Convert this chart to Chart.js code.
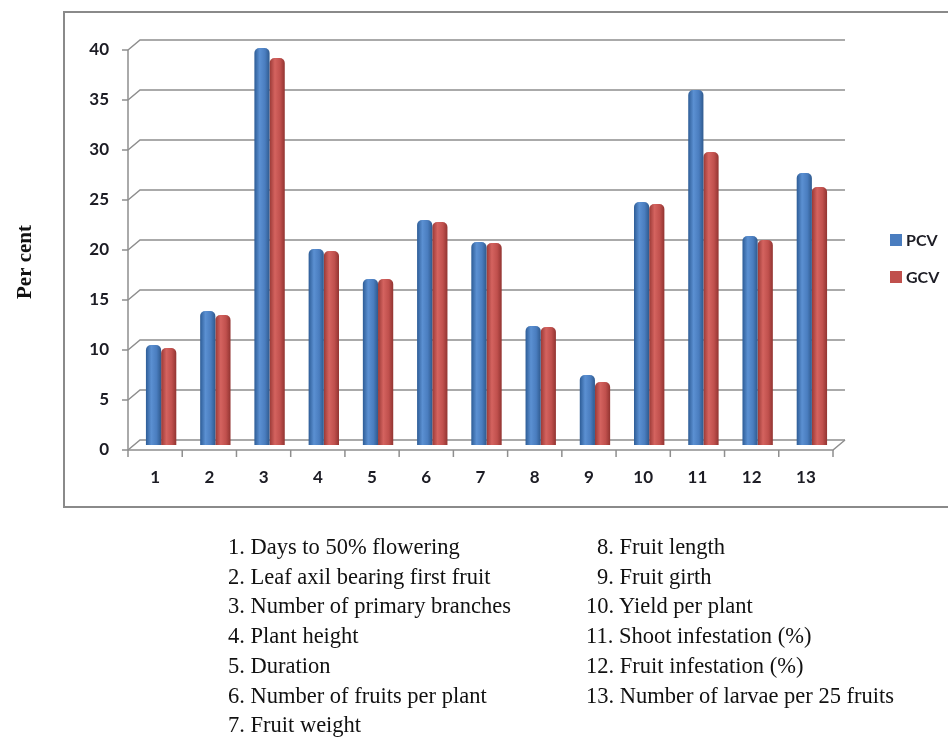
<!DOCTYPE html>
<html>
<head>
<meta charset="utf-8">
<script src="https://cdn.jsdelivr.net/npm/chart.js@4.4.1/dist/chart.umd.min.js"></script>
<style>
  html, body { margin: 0; padding: 0; background: #fff; }
  #wrap { position: relative; width: 948px; height: 739px; overflow: hidden; }
  #chart { position: absolute; left: 0; top: 0; }
  .key { position: absolute; font-family: "Liberation Serif", "Times New Roman", serif;
         font-size: 22.5px; line-height: 29.7px; color: #111; white-space: nowrap; }
  #keyLeft { left: 228px; top: 532px; }
  #keyRight { left: 586px; top: 532px; }
  #keyRight div.ind { padding-left: 11px; }
</style>
</head>
<body>
<div id="wrap">
  <canvas id="chart" width="948" height="739"></canvas>
  <div class="key" id="keyLeft"></div>
  <div class="key" id="keyRight"></div>
</div>
<script>
var categories = ["1", "2", "3", "4", "5", "6", "7", "8", "9", "10", "11", "12", "13"];
var pcv = [10.0, 13.4, 39.7, 19.6, 16.6, 22.5, 20.3, 11.9, 7.0, 24.3, 35.5, 20.9, 27.2];
var gcv = [9.7, 13.0, 38.7, 19.4, 16.6, 22.3, 20.2, 11.8, 6.3, 24.1, 29.3, 20.5, 25.8];
var yTicks = [0, 5, 10, 15, 20, 25, 30, 35, 40];
var traitNames = [
  "Days to 50% flowering",
  "Leaf axil bearing first fruit",
  "Number of primary branches",
  "Plant height",
  "Duration",
  "Number of fruits per plant",
  "Fruit weight",
  "Fruit length",
  "Fruit girth",
  "Yield per plant",
  "Shoot infestation (%)",
  "Fruit infestation (%)",
  "Number of larvae per 25 fruits"
];

// key below the chart
var leftHtml = "", rightHtml = "";
traitNames.forEach(function(name, i) {
  var line = (i + 1) + ". " + name;
  if (i < 7) leftHtml += "<div>" + line + "</div>";
  else rightHtml += "<div" + (i < 9 ? " class='ind'" : "") + ">" + line + "</div>";
});
document.getElementById("keyLeft").innerHTML = leftHtml;
document.getElementById("keyRight").innerHTML = rightHtml;

var CAT_PCT = 0.56;
var DEPTH = {x: 6, y: 5};   // half of the fake 3d offset
var axisFont = 'bold 17px Lato, "Open Sans", sans-serif';
var textColor = "#1c1c24";
var gridColor = "#8e8e8e";

var shades = [
  ["#2d5c96", "#5b90d2", "#4a7dbf", "#2f5a8e"],
  ["#9a3936", "#d4635f", "#c0504d", "#923431"]
];

function barFill(ctx) {
  var chart = ctx.chart;
  if (!chart.chartArea) return shades[ctx.datasetIndex][2];
  var x = chart.scales.x;
  var catW = x.width / categories.length;
  var barW = catW * CAT_PCT / 2;
  var left = x.getPixelForValue(ctx.dataIndex) - catW * CAT_PCT / 2 + ctx.datasetIndex * barW;
  var g = chart.ctx.createLinearGradient(left, 0, left + barW, 0);
  var s = shades[ctx.datasetIndex];
  g.addColorStop(0, s[0]);
  g.addColorStop(0.35, s[1]);
  g.addColorStop(0.7, s[2]);
  g.addColorStop(1, s[3]);
  return g;
}

var frame = {
  id: "frame",
  beforeDatasetsDraw: function(chart) {
    var c = chart.ctx, a = chart.chartArea, y = chart.scales.y;
    c.save();
    // outer box
    c.strokeStyle = "#8a8a8a";
    c.lineWidth = 2;
    c.strokeRect(64, 12, 900, 495);
    // back wall gridlines + side diagonals
    c.strokeStyle = gridColor;
    c.lineWidth = 1.5;
    yTicks.forEach(function(v) {
      var py = y.getPixelForValue(v);
      c.beginPath();
      c.moveTo(a.left - DEPTH.x, py + DEPTH.y);
      c.lineTo(a.left + DEPTH.x, py - DEPTH.y);
      c.lineTo(a.right + DEPTH.x, py - DEPTH.y);
      c.stroke();
    });
    // floor
    var p0 = y.getPixelForValue(0);
    c.beginPath();
    c.moveTo(a.left - DEPTH.x, p0 + DEPTH.y);
    c.lineTo(a.right - DEPTH.x, p0 + DEPTH.y);
    c.lineTo(a.right + DEPTH.x, p0 - DEPTH.y);
    c.stroke();
    c.restore();
  },
  afterDraw: function(chart) {
    var c = chart.ctx, a = chart.chartArea, x = chart.scales.x, y = chart.scales.y;
    var fx = a.left - DEPTH.x;
    var p0 = y.getPixelForValue(0) + DEPTH.y;
    c.save();
    c.strokeStyle = gridColor;
    c.lineWidth = 1.5;
    // front value axis
    c.beginPath();
    c.moveTo(fx, y.getPixelForValue(40) + DEPTH.y);
    c.lineTo(fx, p0);
    c.stroke();
    c.fillStyle = textColor;
    c.font = axisFont;
    c.textAlign = "right";
    c.textBaseline = "middle";
    yTicks.forEach(function(v) {
      var py = y.getPixelForValue(v) + DEPTH.y;
      c.beginPath();
      c.moveTo(fx - 6, py);
      c.lineTo(fx, py);
      c.stroke();
      c.fillText(String(v), fx - 19, py);
    });
    // category ticks and labels
    c.textAlign = "center";
    for (var i = 0; i <= categories.length; i++) {
      var tx = x.getPixelForValue(i - 0.5) - DEPTH.x;
      c.beginPath();
      c.moveTo(tx, p0);
      c.lineTo(tx, p0 + 7);
      c.stroke();
      if (i < categories.length) {
        c.fillText(categories[i], x.getPixelForValue(i) - DEPTH.x, 478);
      }
    }
    // legend
    c.textAlign = "left";
    chart.data.datasets.forEach(function(ds, k) {
      var cy = 240 + k * 37;
      c.fillStyle = shades[k][2];
      c.fillRect(890, cy - 6, 12, 12);
      c.fillStyle = textColor;
      c.font = 'bold 16px Lato, "Open Sans", sans-serif';
      c.fillText(ds.label, 906, cy + 1);
    });
    // value axis title
    c.save();
    c.translate(26, 262);
    c.rotate(-Math.PI / 2);
    c.textAlign = "center";
    c.font = 'bold 21px "Liberation Serif", "Times New Roman", serif';
    c.fillStyle = "#111";
    c.fillText("Per cent", 0, 0);
    c.restore();
    c.restore();
  }
};

var barStyle = {
  categoryPercentage: CAT_PCT,
  barPercentage: 1,
  backgroundColor: barFill,
  borderWidth: 0,
  borderRadius: {topLeft: 5, topRight: 5, bottomLeft: 0, bottomRight: 0},
  borderSkipped: false
};

new Chart(document.getElementById("chart"), {
  type: "bar",
  data: {
    labels: categories,
    datasets: [
      Object.assign({label: "PCV", data: pcv}, barStyle),
      Object.assign({label: "GCV", data: gcv}, barStyle)
    ]
  },
  options: {
    responsive: false,
    animation: false,
    events: [],
    layout: {padding: {left: 134, right: 109, top: 45, bottom: 294}},
    scales: {
      x: {display: false},
      y: {display: false, min: 0, max: 40}
    },
    plugins: {
      colors: {enabled: false},
      legend: {display: false},
      tooltip: {enabled: false}
    }
  },
  plugins: [frame]
});
</script>
</body>
</html>
